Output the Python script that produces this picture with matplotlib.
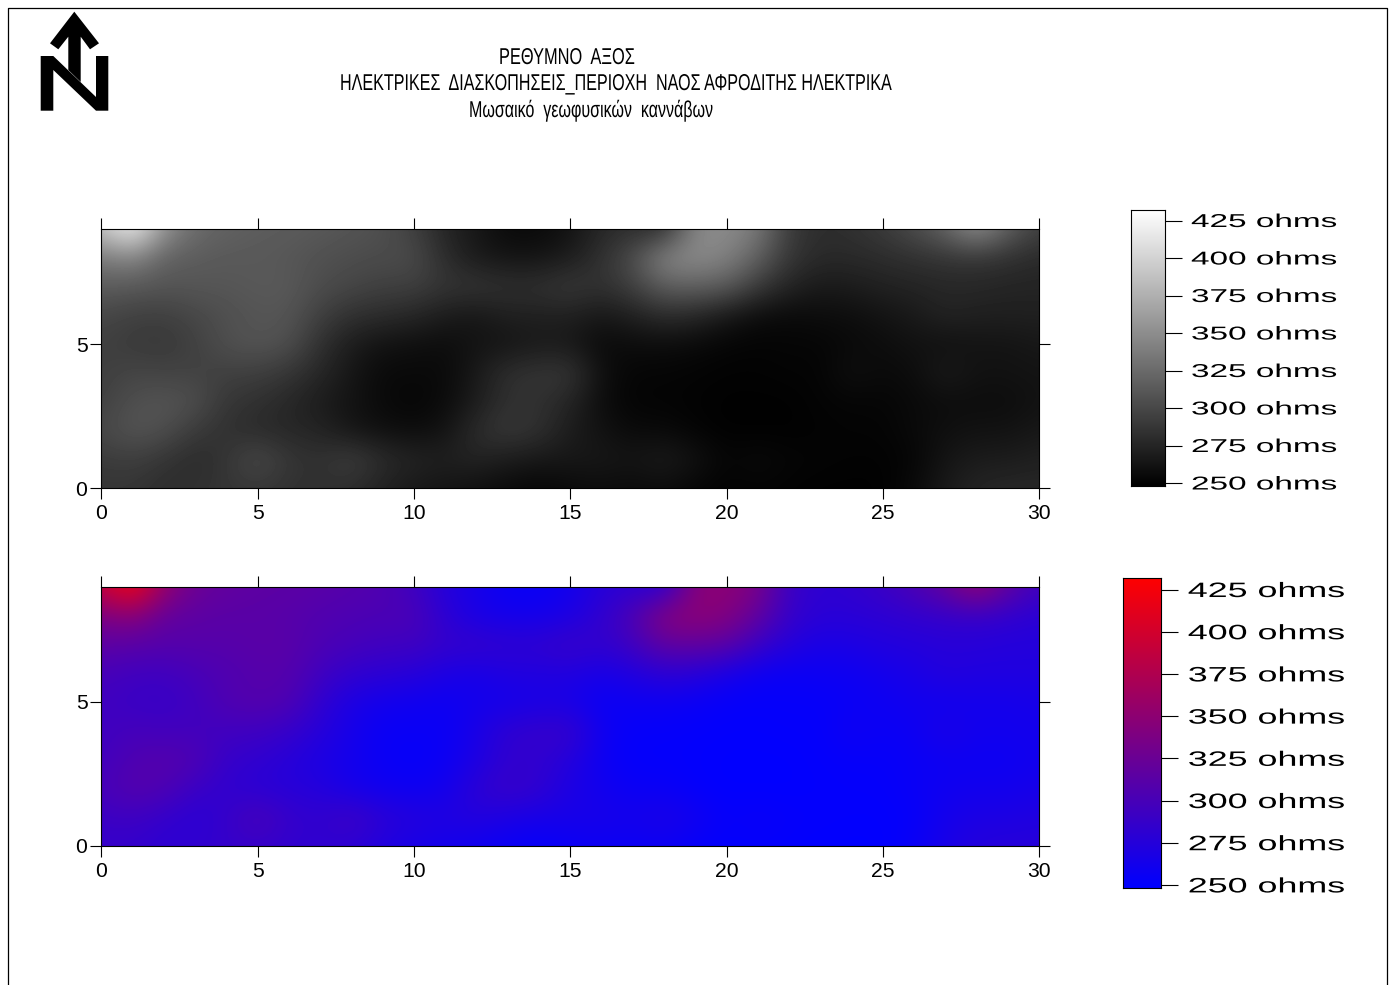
import numpy as np
import matplotlib
matplotlib.use("Agg")
import matplotlib.pyplot as plt
from matplotlib.colors import LinearSegmentedColormap
from matplotlib.lines import Line2D
from matplotlib.patches import Polygon
from matplotlib.patheffects import AbstractPathEffect
from matplotlib.transforms import Affine2D

W, H = 1394, 985

title_lines = ["ΡΕΘΥΜΝΟ  ΑΞΟΣ",
               "ΗΛΕΚΤΡΙΚΕΣ  ΔΙΑΣΚΟΠΗΣΕΙΣ_ΠΕΡΙΟΧΗ  ΝΑΟΣ ΑΦΡΟΔΙΤΗΣ ΗΛΕΚΤΡΙΚΑ",
               "Μωσαικό  γεωφυσικών  καννάβων"]

x_ticks = [0, 5, 10, 15, 20, 25, 30]
y_ticks = [0, 5]
scale_values = [250, 275, 300, 325, 350, 375, 400, 425]
scale_labels = ["250 ohms", "275 ohms", "300 ohms", "325 ohms",
                "350 ohms", "375 ohms", "400 ohms", "425 ohms"]
ohm_min, ohm_max = 248, 432

# resistance in ohms, one list per line of the grid, x = 0..30
ohms_y0 = [286, 286, 280, 283, 286, 287, 283, 282, 280, 271, 265, 262, 259, 255, 252, 255, 257, 255, 257, 252, 250, 251, 250, 249, 249, 249, 255, 266, 274, 276, 276]
ohms_y1 = [290, 293, 286, 278, 286, 303, 287, 283, 294, 280, 274, 271, 274, 268, 265, 265, 265, 263, 268, 261, 252, 255, 252, 251, 250, 250, 252, 263, 268, 268, 271]
ohms_y2 = [299, 309, 305, 290, 283, 278, 276, 274, 263, 259, 257, 261, 280, 289, 283, 268, 261, 255, 255, 251, 249, 249, 249, 250, 251, 251, 255, 259, 261, 261, 265]
ohms_y3 = [294, 305, 309, 305, 287, 283, 276, 268, 262, 255, 252, 256, 268, 283, 283, 274, 257, 251, 251, 250, 249, 249, 249, 251, 252, 252, 255, 257, 257, 257, 261]
ohms_y4 = [293, 298, 296, 296, 294, 293, 287, 276, 264, 255, 255, 255, 266, 282, 286, 288, 259, 252, 252, 251, 250, 250, 251, 251, 259, 255, 257, 268, 261, 261, 262]
ohms_y5 = [294, 290, 288, 294, 305, 309, 305, 283, 268, 261, 259, 257, 262, 262, 266, 265, 255, 257, 257, 255, 252, 251, 252, 252, 255, 257, 261, 259, 262, 262, 265]
ohms_y6 = [299, 294, 293, 299, 305, 309, 309, 294, 283, 280, 276, 268, 264, 271, 271, 271, 265, 271, 280, 276, 265, 257, 255, 257, 258, 262, 266, 274, 271, 271, 271]
ohms_y7 = [314, 312, 309, 310, 310, 312, 312, 303, 299, 294, 294, 286, 287, 283, 283, 290, 283, 294, 316, 318, 314, 290, 274, 266, 268, 272, 274, 276, 276, 274, 274]
ohms_y8 = [335, 345, 318, 314, 312, 312, 310, 306, 303, 302, 302, 280, 266, 262, 262, 268, 283, 303, 345, 349, 342, 318, 287, 278, 278, 280, 283, 286, 287, 283, 278]
ohms_y9 = [385, 430, 355, 325, 318, 315, 314, 312, 309, 305, 294, 274, 265, 255, 255, 261, 276, 280, 276, 345, 349, 336, 290, 280, 283, 290, 303, 320, 355, 318, 294]

grid = np.array([ohms_y0, ohms_y1, ohms_y2, ohms_y3, ohms_y4,
                 ohms_y5, ohms_y6, ohms_y7, ohms_y8, ohms_y9])

gray_map = LinearSegmentedColormap.from_list("bw", ["#000000", "#ffffff"])
blue_red = LinearSegmentedColormap.from_list("br", ["#0000ff", "#ff0000"])

plt.rcParams['font.family'] = ['Liberation Sans', 'DejaVu Sans']


# text in the original is stretched sideways, matplotlib has no option for it
class Widen(AbstractPathEffect):
    def __init__(self, sx):
        super().__init__()
        self.sx = sx

    def draw_path(self, renderer, gc, tpath, affine, rgbFace=None):
        renderer.draw_path(gc, tpath, Affine2D().scale(self.sx, 1) + affine, rgbFace)


def box(left, top, right, bottom):
    return [left / W, 1 - bottom / H, (right - left) / W, (bottom - top) / H]


def px(x, y):
    return x / W, 1 - y / H


def draw_map(rect, cmap):
    ax = fig.add_axes(box(*rect))
    ax.imshow(grid, origin="lower", extent=[-0.5, 30.5, -0.5, 9.5], cmap=cmap,
              vmin=ohm_min, vmax=ohm_max, interpolation="bicubic", aspect="auto")
    ax.set_xlim(0, 30)
    ax.set_ylim(0, 9)
    ax.set_xticks(x_ticks)
    ax.set_yticks(y_ticks)
    ax.tick_params(top=True, right=True, length=8, width=0.8, labelsize=15.2)
    ax.tick_params(axis="x", pad=3.6)
    ax.tick_params(axis="y", pad=2)
    for s in ax.spines.values():
        s.set_linewidth(0.8)
    return ax


def draw_scale(rect, cmap, tick_len, size, sx, pad):
    ax = fig.add_axes(box(*rect))
    ramp = np.linspace(ohm_min, ohm_max, 256).reshape(-1, 1)
    ax.imshow(ramp, origin="lower", extent=[0, 1, ohm_min, ohm_max], cmap=cmap,
              vmin=ohm_min, vmax=ohm_max, aspect="auto")
    ax.set_xticks([])
    ax.set_yticks(scale_values)
    ax.set_yticklabels(scale_labels)
    ax.yaxis.tick_right()
    ax.tick_params(axis="y", length=tick_len, width=0.8, labelsize=size, pad=pad)
    for lab in ax.get_yticklabels():
        lab.set_path_effects([Widen(sx)])
    for s in ax.spines.values():
        s.set_linewidth(0.8)
    return ax


fig = plt.figure(figsize=(W / 100, H / 100), dpi=100)

# page frame, open at the bottom
frame = [px(7.5, H + 5), px(7.5, 7.5), px(1387, 7.5), px(1387, H + 5)]
fig.add_artist(Line2D([p[0] for p in frame], [p[1] for p in frame],
                      color="black", lw=0.9, transform=fig.transFigure))

# north arrow
north_n = [(40.7, 56), (53.3, 56), (96, 97), (96, 56), (108.3, 56), (108.3, 110.7),
           (96, 110.7), (53.3, 70), (53.3, 110.7), (40.7, 110.7)]
north_arrow = [(74.3, 11.7), (99, 43.3), (90, 49.3), (80.7, 36.7), (80.7, 82),
               (68.3, 70), (68.3, 36.7), (58.3, 49.3), (50, 43.3)]
for shape in [north_n, north_arrow]:
    fig.add_artist(Polygon([px(*p) for p in shape], closed=True, color="black",
                           lw=0, transform=fig.transFigure))

# title, squeezed to the widths in the original
title_x = [499, 340, 469]
title_y = [64, 90, 117]
title_sx = [0.715, 0.703, 0.70]
for i in range(3):
    x, y = px(title_x[i], title_y[i])
    fig.text(x, y, title_lines[i], fontsize=16.5, ha="left", va="baseline",
             path_effects=[Widen(title_sx[i])])

draw_map((101.3, 229.3, 1039.3, 488.3), gray_map)
draw_map((101.3, 586.7, 1039.3, 845.7), blue_red)

draw_scale((1131, 210, 1165.3, 486), gray_map, 12, 13.4, 1.79, 6.5)
draw_scale((1123.3, 577.7, 1160.7, 888.3), blue_red, 12.5, 15, 1.72, 7)

plt.savefig("out.png", dpi=100)
